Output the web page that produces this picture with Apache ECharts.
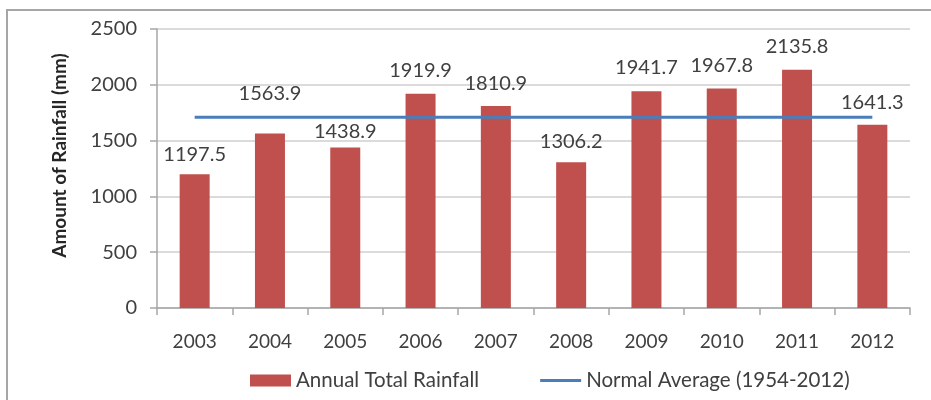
<!DOCTYPE html>
<html>
<head>
<meta charset="utf-8">
<script src="https://cdn.jsdelivr.net/npm/echarts@6/dist/echarts.min.js"></script>
<style>
  html, body { margin: 0; padding: 0; background: #fff; }
  #chart { width: 931px; height: 400px; }
</style>
</head>
<body>
<div id="chart"></div>
<script>
// Annual rainfall totals compared with the long-term normal
const years = ['2003', '2004', '2005', '2006', '2007', '2008', '2009', '2010', '2011', '2012'];
const annualTotal = [1197.5, 1563.9, 1438.9, 1919.9, 1810.9, 1306.2, 1941.7, 1967.8, 2135.8, 1641.3];
const normalAverage = [1710, 1710, 1710, 1710, 1710, 1710, 1710, 1710, 1710, 1710];
const yTicks = [0, 500, 1000, 1500, 2000, 2500];

// Label gap above each bar (keeps labels clear of the average line)
const labelGap = [10, 30, 6, 13, 12, 11, 14, 13, 13, 12];

const FONT = 'Lato';
const TEXT = '#404040';

const chart = echarts.init(document.getElementById('chart'), null, { renderer: 'canvas' });

chart.setOption({
  animation: false,
  textStyle: { fontFamily: FONT },
  graphic: [{
    type: 'rect',
    shape: { x: 7, y: 10, width: 1000, height: 500 },
    style: { fill: 'none', stroke: '#a6a6a6', lineWidth: 2 },
    z: 100
  }],
  grid: { left: 157, right: 21, top: 29, bottom: 92 },
  legend: {
    left: 245,
    top: 365,
    itemWidth: 41,
    itemHeight: 12,
    itemGap: 61,
    symbolKeepAspect: true,
    textStyle: { fontFamily: FONT, fontSize: 20.5, color: TEXT },
    data: [
      { name: 'Annual Total Rainfall', icon: 'rect' },
      { name: 'Normal Average (1954-2012)', icon: 'path://M0,0 H41 V3 H0 Z' }
    ]
  },
  xAxis: {
    type: 'category',
    data: years,
    axisLine: { lineStyle: { color: '#a6a6a6', width: 1.5 } },
    axisTick: { show: true, length: 7, lineStyle: { color: '#a6a6a6', width: 1.5 } },
    axisLabel: { fontFamily: FONT, fontSize: 19, color: TEXT, margin: 24 }
  },
  yAxis: {
    type: 'value',
    min: yTicks[0],
    max: yTicks[yTicks.length - 1],
    interval: yTicks[1] - yTicks[0],
    name: 'Amount of Rainfall (mm)',
    nameLocation: 'middle',
    nameGap: 88,
    nameTextStyle: { fontFamily: FONT, fontSize: 19, fontWeight: 'bold', color: '#262626', padding: [0, 0, 0, 26] },
    axisLine: { show: true, lineStyle: { color: '#a6a6a6', width: 1.5 } },
    axisTick: { show: true, length: 7, inside: false, lineStyle: { color: '#a6a6a6', width: 1.5 } },
    axisLabel: { fontFamily: FONT, fontSize: 20, color: TEXT, margin: 20, formatter: v => String(v) },
    splitLine: { lineStyle: { color: '#cfcfcf', width: 1.5 } }
  },
  series: [
    {
      name: 'Annual Total Rainfall',
      type: 'bar',
      barWidth: 30,
      itemStyle: { color: '#c0504d' },
      data: annualTotal.map((v, i) => ({
        value: v,
        label: { distance: labelGap[i] }
      })),
      label: {
        show: true,
        position: 'top',
        fontFamily: FONT,
        fontSize: 20,
        color: TEXT,
        formatter: p => p.value.toFixed(1)
      },
      z: 2
    },
    {
      name: 'Normal Average (1954-2012)',
      type: 'line',
      data: normalAverage,
      symbol: 'none',
      lineStyle: { color: '#4a7ebb', width: 3 },
      itemStyle: { color: '#4a7ebb' },
      z: 3
    }
  ]
});
</script>
</body>
</html>
